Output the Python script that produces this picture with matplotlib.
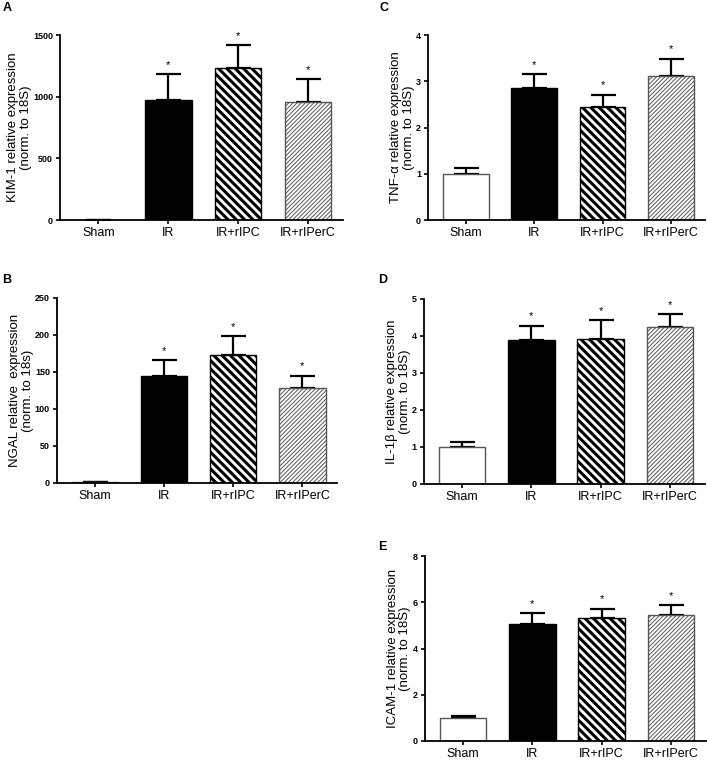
import matplotlib
matplotlib.use('Agg')
import matplotlib.pyplot as plt

plt.rcParams['font.family'] = ['Liberation Sans', 'DejaVu Sans']

# groups
groups = ['Sham', 'IR', 'IR+rIPC', 'IR+rIPerC']

# means and upper SEM
kim1 = [0, 970, 1230, 955]
kim1_err = [0, 215, 190, 185]
ngal = [1, 145, 173, 128]
ngal_err = [1, 21, 25, 17]
tnfa = [1.0, 2.86, 2.44, 3.12]
tnfa_err = [0.12, 0.30, 0.27, 0.37]
il1b = [1.0, 3.88, 3.93, 4.24]
il1b_err = [0.14, 0.40, 0.49, 0.35]
icam1 = [1.0, 5.06, 5.33, 5.47]
icam1_err = [0.07, 0.46, 0.39, 0.39]

# * = significant vs Sham
stars = [False, True, True, True]

panels = [
    # letter, data, err, ylabel, ymax, yticks, axes rect, letter position (px from top-left)
    ('A', kim1, kim1_err, 'KIM-1 relative expression\n(norm. to 18S)', 1500, [0, 500, 1000, 1500],
     [0.0849, 0.7105, 0.400, 0.2434], (3, 2)),
    ('B', ngal, ngal_err, 'NGAL relative  expression\n(norm. to 18s)', 250, [0, 50, 100, 150, 200, 250],
     [0.0806, 0.3645, 0.396, 0.2434], (2, 274)),
    ('C', tnfa, tnfa_err, 'TNF-α relative expression\n(norm. to 18S)', 4, [0, 1, 2, 3, 4],
     [0.6054, 0.7105, 0.392, 0.2434], (380, 2)),
    ('D', il1b, il1b_err, 'IL-1β relative expression\n(norm. to 18S)', 5, [0, 1, 2, 3, 4, 5],
     [0.5997, 0.3632, 0.397, 0.2434], (378, 274)),
    ('E', icam1, icam1_err, 'ICAM-1 relative expression\n(norm. to 18S)', 8, [0, 2, 4, 6, 8],
     [0.601, 0.025, 0.397, 0.2434], (378, 541)),
]

faces = ['white', 'black', 'white', 'white']
edges = ['#555555', 'black', 'black', '#555555']
hatches = [None, None, '\\\\\\\\', '////////']
hatch_lw = [1.0, 1.0, 2.2, 0.7]

W, H = 707, 760
fig = plt.figure(figsize=(W / 100, H / 100), dpi=100)

for letter, vals, errs, ylab, ymax, yticks, rect, lpos in panels:
    ax = fig.add_axes(rect)
    x = range(len(groups))
    for i in x:
        with plt.rc_context({'hatch.linewidth': hatch_lw[i]}):
            ax.bar(i, vals[i], width=0.67, color=faces[i], edgecolor=edges[i],
                   hatch=hatches[i], linewidth=1.0, zorder=2)
        ax.errorbar(i, vals[i], yerr=[[0], [errs[i]]], fmt='none', ecolor='black',
                    elinewidth=1.6, capsize=9, capthick=1.6, zorder=1)
        if stars[i]:
            ax.annotate('*', (i, vals[i] + errs[i]), xytext=(0, 3), textcoords='offset points',
                        ha='center', va='bottom', fontsize=8)
    ax.set_xlim(-0.55, 3.5)
    ax.set_ylim(0, ymax)
    ax.set_yticks(yticks)
    ax.set_xticks(list(x))
    ax.set_xticklabels(groups, fontsize=9)
    for t in ax.get_yticklabels():
        t.set_fontweight('bold')
        t.set_fontsize(6.5)
    ax.set_ylabel(ylab, fontsize=9.5, labelpad=1, linespacing=1.1)
    ax.spines['top'].set_visible(False)
    ax.spines['right'].set_visible(False)
    ax.spines['left'].set_linewidth(1.3)
    ax.spines['bottom'].set_linewidth(1.3)
    ax.tick_params(axis='both', width=1.2, length=3, pad=2)
    # panel letter
    fig.text(lpos[0] / W, 1 - lpos[1] / H, letter, fontsize=9, fontweight='bold',
             ha='left', va='top')

fig.savefig('out.png', dpi=100)
